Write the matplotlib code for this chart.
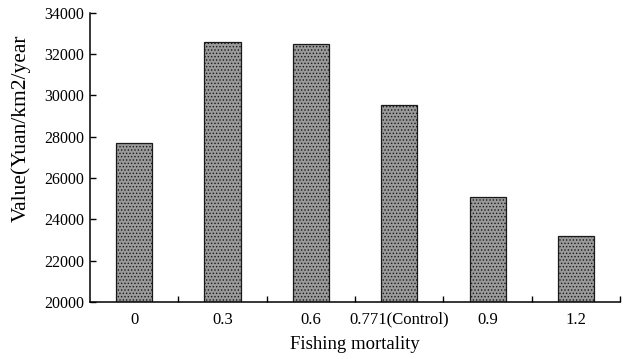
import matplotlib
matplotlib.use("Agg")
import matplotlib.pyplot as plt
import numpy as np

plt.rcParams['font.family'] = ['Liberation Serif', 'DejaVu Serif']
plt.rcParams['hatch.linewidth'] = 0.6
plt.rcParams['hatch.color'] = '#3a3a3a'

categories = ['0', '0.3', '0.6', '0.771(Control)', '0.9', '1.2']
values = [27700, 32600, 32500, 29550, 25100, 23200]
yticks = [20000, 22000, 24000, 26000, 28000, 30000, 32000, 34000]

fig = plt.figure(figsize=(6.29, 3.59), dpi=100)
ax = fig.add_axes([0.143, 0.159, 0.843, 0.805])

x = np.arange(len(categories))
ax.bar(x, values, width=0.41, bottom=0, color='#9a9a9a', edgecolor='#1a1a1a',
       linewidth=0.9, hatch='.....', zorder=2)

ax.set_xlim(-0.5, len(categories) - 0.5)
ax.set_ylim(20000, 34000)
ax.set_yticks(yticks)
ax.set_yticklabels([str(v) for v in yticks], fontsize=11.5)

# category labels centred under bars, tick marks on category boundaries
ax.set_xticks(x)
ax.set_xticklabels(categories, fontsize=12)
ax.tick_params(axis='x', which='major', length=0, pad=7)
ax.set_xticks(np.arange(0.5, len(categories)), minor=True)
ax.tick_params(axis='x', which='minor', direction='in', length=4, width=1)
ax.tick_params(axis='y', direction='in', length=4, width=1, pad=4)

for side in ['top', 'right']:
    ax.spines[side].set_visible(False)
for side in ['left', 'bottom']:
    ax.spines[side].set_linewidth(1.1)

ax.set_xlabel('Fishing mortality', fontsize=13.5, labelpad=6)
ax.set_ylabel('Value(Yuan/km2/year', fontsize=15.5)
ax.yaxis.set_label_coords(-0.112, 0.60)

fig.savefig('out.png', dpi=100)
